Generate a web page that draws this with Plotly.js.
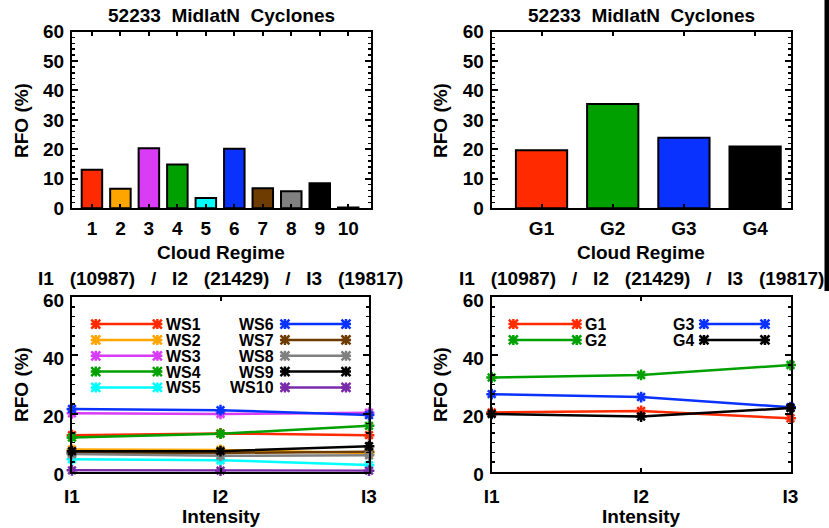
<!DOCTYPE html>
<html><head><meta charset="utf-8">
<script src="https://cdn.plot.ly/plotly-3.0.1.min.js"></script>
<style>html,body{margin:0;padding:0;background:#fff}#chart{width:829px;height:528px}</style>
</head><body><div id="chart"></div>
<script>
// ---------------- DATA ----------------
const regimeLabels = ['1','2','3','4','5','6','7','8','9','10'];
const regimeRFO = [13.1, 6.6, 20.4, 14.9, 3.5, 20.2, 6.8, 5.8, 8.5, 0.3];
const groupLabels = ['G1','G2','G3','G4'];
const groupRFO = [19.7, 35.4, 23.9, 21.0];
const intensityLabels = ['I1','I2','I3'];
const wsNames = ['WS1','WS2','WS3','WS4','WS5','WS6','WS7','WS8','WS9','WS10'];
const ws1 = [12.6, 13.2, 12.6];
const ws2 = [7.7, 7.5, 6.5];
const ws3 = [20.1, 19.9, 20.3];
const ws4 = [11.8, 13.1, 15.8];
const ws5 = [4.3, 4.0, 2.3];
const ws6 = [21.6, 21.2, 19.5];
const ws7 = [6.5, 6.5, 6.9];
const ws8 = [6.1, 5.5, 5.7];
const ws9 = [7.1, 7.1, 8.8];
const ws10 = [0.5, 0.4, 0.4];
const gNames = ['G1','G2','G3','G4'];
const g1 = [20.4, 20.9, 18.4];
const g2 = [32.4, 33.3, 36.7];
const g3 = [26.7, 25.7, 22.2];
const g4 = [19.9, 19.0, 21.9];
const topTitle = '52233 MidlatN Cyclones';
const bottomTitle = 'I1 (10987) / I2 (21429) / I3 (19817)';
const yTitle = 'RFO (%)';
const xTitleTop = 'Cloud Regime';
const xTitleBottom = 'Intensity';

// ---------------- STYLE ----------------
const wsColors = ['#ff2a00','#ffa500','#d83cf5','#00a000','#00ffff','#0a32ff','#6e3c00','#808080','#000000','#7a2ca8'];
const gColors = ['#ff2a00','#00a000','#0a32ff','#000000'];
const FONT = 'Liberation Sans, Arial, sans-serif';
const W = 829, H = 528;
const sp = (s, n) => s.replace(/ /g, '\u00A0'.repeat(n));
const px = x => x / W;
const py = y => 1 - y / H;

const wsSeries = [ws1, ws2, ws3, ws4, ws5, ws6, ws7, ws8, ws9, ws10];
const gSeries = [g1, g2, g3, g4];

const traces = [];
traces.push({type:'bar', x: regimeLabels, y: regimeRFO, xaxis:'x', yaxis:'y', width:0.72,
  marker:{color: wsColors, line:{color:'#000', width:2}}, showlegend:false, hoverinfo:'x+y'});
traces.push({type:'bar', x: groupLabels, y: groupRFO, xaxis:'x2', yaxis:'y2', width:0.72,
  marker:{color: gColors, line:{color:'#000', width:2}}, showlegend:false, hoverinfo:'x+y'});
wsSeries.forEach((s, i) => traces.push({type:'scatter', mode:'lines+markers', x: intensityLabels, y: s,
  name: wsNames[i], xaxis:'x3', yaxis:'y3', cliponaxis:false, showlegend:false,
  line:{color: wsColors[i], width:2.5},
  marker:{symbol:'asterisk-open', size:9, color: wsColors[i], line:{color: wsColors[i], width:2.5}}}));
gSeries.forEach((s, i) => traces.push({type:'scatter', mode:'lines+markers', x: intensityLabels, y: s,
  name: gNames[i], xaxis:'x4', yaxis:'y4', cliponaxis:false, showlegend:false,
  line:{color: gColors[i], width:2.5},
  marker:{symbol:'asterisk-open', size:9, color: gColors[i], line:{color: gColors[i], width:2.5}}}));

const tickfont = {family: FONT, size: 19, color:'#000', weight:'bold'};
function xAx(domain, anchor, range, standoff) {
  return {domain, anchor, range, type:'category', showline:true, linecolor:'#000', linewidth:2, mirror:'allticks',
    ticks:'inside', ticklen:4, tickwidth:2, tickcolor:'#000', showgrid:false, zeroline:false,
    tickfont, ticklabelstandoff: standoff, fixedrange:true};
}
function yAx(domain, anchor, dtick, mdtick, shift) {
  return {domain, anchor, range:[0,60], dtick, tick0:0, showline:true, linecolor:'#000', linewidth:2, mirror:'allticks',
    ticks:'inside', ticklen:6, tickwidth:2, tickcolor:'#000', showgrid:false, zeroline:false,
    minor:{ticks:'inside', ticklen:3, tickwidth:1.5, tickcolor:'#000', dtick: mdtick, tick0:0, showgrid:false},
    tickfont, ticklabelstandoff:2, ticklabelshift: shift, fixedrange:true};
}

const yTop = [py(208.3), py(31.5)];
const yBot = [py(471.8), py(297.3)];
const layout = {
  width: W, height: H, margin:{l:0, r:0, t:0, b:0}, paper_bgcolor:'#fff', plot_bgcolor:'#fff',
  showlegend:false, bargap:0,
  xaxis: xAx([px(72), px(371)], 'y', [-0.7, 9.8], 2),
  yaxis: yAx(yTop, 'x', 10, 2, 0),
  xaxis2: xAx([px(491.7), px(790.7)], 'y2', [-0.7, 3.5], 2),
  yaxis2: yAx(yTop, 'x2', 10, 2, 0),
  xaxis3: xAx([px(72), px(369)], 'y3', [0, 2], 6),
  yaxis3: yAx(yBot, 'x3', 20, 20/6, 3),
  xaxis4: xAx([px(491.7), px(790.5)], 'y4', [0, 2], 6),
  yaxis4: yAx(yBot, 'x4', 20, 20/6, 3),
  shapes: [], annotations: []
};

function ann(text, x, y, size, nsp, extra) {
  layout.annotations.push(Object.assign({text: sp(text, nsp), xref:'paper', yref:'paper', x: px(x), y: py(y),
    xanchor:'center', yanchor:'middle', showarrow:false,
    font:{family: FONT, size, color:'#000', weight:'bold'}}, extra || {}));
}
ann(topTitle, 221, 16, 19, 2);
ann(topTitle, 641, 16, 19, 2);
ann(bottomTitle, 220, 278, 19, 3);
ann(bottomTitle, 641, 278, 19, 3);
ann(yTitle, 22, 121, 19, 1, {textangle:-90});
ann(yTitle, 441, 121, 19, 1, {textangle:-90});
ann(yTitle, 21, 385, 19, 1, {textangle:-90});
ann(yTitle, 440, 385, 19, 1, {textangle:-90});
ann(xTitleTop, 221, 252, 19, 1);
ann(xTitleTop, 641, 252, 19, 1);
ann(xTitleBottom, 221, 516, 19, 1);
ann(xTitleBottom, 641, 516, 19, 1);

// right-edge black strip (part of the reference image frame)
layout.shapes.push({type:'rect', xref:'paper', yref:'paper', x0: px(824.5), x1: 1, y0: py(291), y1: 1,
  fillcolor:'#000', line:{width:0}});

// legend samples (layout positions in axis units)
const starPath = 'M-4.5,-4.5L4.5,4.5M-4.5,4.5L4.5,-4.5M-5,0L5,0M0,-5L0,5';
function legendEntry(xr, yr, name, color, lx0, lx1, ly, tx, side) {
  layout.shapes.push({type:'line', xref: xr, yref: yr, x0: lx0, x1: lx1, y0: ly, y1: ly, line:{color, width:2.5}});
  [lx0, lx1].forEach(ax => layout.shapes.push({type:'path', xref: xr, yref: yr, xsizemode:'pixel', ysizemode:'pixel',
    xanchor: ax, yanchor: ly, path: starPath, line:{color, width:2.5}}));
  layout.annotations.push({text: name, xref: xr, yref: yr, x: tx, y: ly, xanchor: side, yanchor:'middle',
    height: 12, valign:'middle', borderpad:0,
    showarrow:false, font:{family: FONT, size:16, color:'#000', weight:'bold'}});
}
const legRowY = [50.8, 45.35, 39.9, 34.45, 29.0];
wsNames.forEach((n, i) => {
  if (i < 5) legendEntry('x3', 'y3', n, wsColors[i], 0.16, 0.575, legRowY[i], 0.625, 'left');
  else legendEntry('x3', 'y3', n, wsColors[i], 1.434, 1.845, legRowY[i - 5], 1.366, 'right');
});
gNames.forEach((n, i) => {
  if (i < 2) legendEntry('x4', 'y4', n, gColors[i], 0.145, 0.569, legRowY[i], 0.62, 'left');
  else legendEntry('x4', 'y4', n, gColors[i], 1.421, 1.829, legRowY[i - 2], 1.36, 'right');
});

Plotly.newPlot('chart', traces, layout, {staticPlot:true, displayModeBar:false});
</script></body></html>
